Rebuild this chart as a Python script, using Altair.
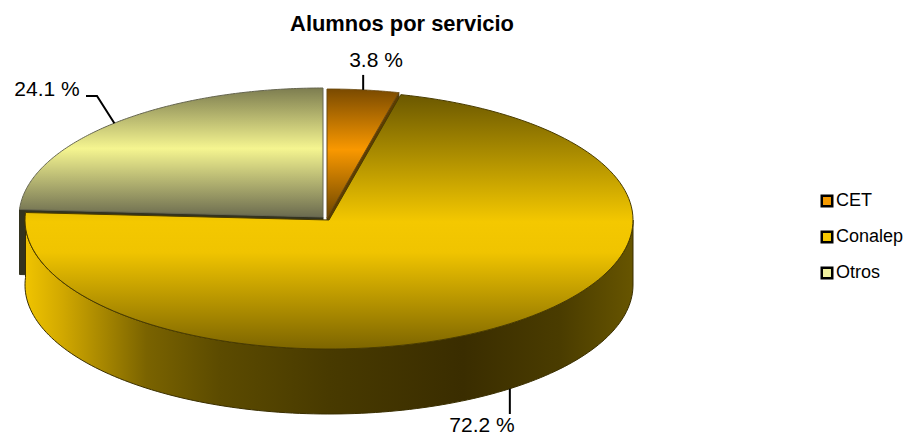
import math
import altair as alt
import pandas as pd

# --- values ---
categories = ["CET", "Conalep", "Otros"]
shares = [3.8, 72.2, 24.1]
labels = ["3.8 %", "72.2 %", "24.1 %"]
swatches = ["#f59a00", "#f5c800", "#f2f2a0"]
title = "Alumnos por servicio"

# --- layout of the projected pie (page pixels) ---
W, H, TOP = 896, 389, 40
RX, RY, DEPTH = 304, 129, 65
CENTRES = {"CET": (327, 218), "Conalep": (329, 220), "Otros": (323, 217)}
x_scale = alt.Scale(domain=[8, 8 + W], range=[0, W], nice=False, zero=False)
y_scale = alt.Scale(domain=[8 + TOP + H, 8 + TOP], nice=False, zero=False)
TOTAL = sum(shares)

spans, start = {}, 0.0
for c, s in zip(categories, shares):
    spans[c] = (start, start + s / TOTAL * 360)
    start += s / TOTAL * 360


def rim(c, a, dy=0.0):
    cx, cy = CENTRES[c]
    return cx + RX * math.sin(math.radians(a)), cy - RY * math.cos(math.radians(a)) + dy


def arc(c, a0, a1, dy=0.0, n=140):
    return [rim(c, a0 + (a1 - a0) * i / n, dy) for i in range(n + 1)]


def table(points):
    return pd.DataFrame({"x": [p[0] for p in points], "y": [p[1] for p in points], "i": range(len(points))})


def shape(points, fill, stroke, width=1.0):
    return alt.Chart(table(points)).mark_line(fill=fill, stroke=stroke, strokeWidth=width, strokeJoin="round").encode(
        x=alt.X("x:Q", scale=x_scale, axis=None),
        y=alt.Y("y:Q", scale=y_scale, axis=None),
        order=alt.Order("i:Q"),
    )


def vgrad(stops):
    return alt.Gradient(gradient="linear", x1=0, y1=0, x2=0, y2=1,
                        stops=[alt.GradientStop(offset=o, color=k) for o, k in stops])


def hgrad(stops):
    return alt.Gradient(gradient="linear", x1=0, y1=0, x2=1, y2=0,
                        stops=[alt.GradientStop(offset=o, color=k) for o, k in stops])


def wedge(c):
    a0, a1 = spans[c]
    return [CENTRES[c]] + arc(c, a0, a1) + [CENTRES[c]]


def cut_wall(c, a):
    cx, cy = CENTRES[c]
    e = rim(c, a)
    return [(cx, cy), e, (e[0], e[1] + DEPTH), (cx, cy + DEPTH), (cx, cy)]


layers = []
# cut walls, mostly hidden by the big slice
layers.append(shape(cut_wall("Otros", spans["Otros"][0]), "#33331f", "#33331f"))
layers.append(shape(cut_wall("CET", spans["CET"][1]), "#5e3c00", "#4a3000"))

# big slice: front wall then top
a0, a1 = spans["Conalep"]
front = arc("Conalep", 90, a1) + arc("Conalep", a1, 90, DEPTH)
front.append(front[0])
layers.append(shape(front, hgrad([(0, "#f0c400"), (0.06, "#d2a900"), (0.2, "#7a6300"), (0.32, "#5c4b00"),
                                  (0.5, "#483a00"), (0.72, "#3a2d00"), (0.88, "#4a3c00"), (1, "#675500")]),
                    "#3a2f00"))
layers.append(shape(wedge("Conalep"), vgrad([(0, "#6b5800"), (0.5, "#f4c800"), (0.62, "#f0c400"), (1, "#7d6500")]),
                    "#4a3c00"))

# small slices
layers.append(shape(wedge("Otros"), vgrad([(0, "#7d7d50"), (0.47, "#f5f590"), (1, "#6b6b4f")]), "#666650"))
layers.append(shape(wedge("CET"), vgrad([(0, "#7a4a00"), (0.47, "#f99800"), (1, "#6b4500")]), "#6b4a10"))

# leader lines, from each slice's middle to its label
mid = {c: (spans[c][0] + spans[c][1]) / 2 for c in categories}
p = rim("CET", mid["CET"])
leaders = [
    [p, (p[0], p[1] - 15)],
    [rim("Otros", mid["Otros"]), (97, 96), (86, 96)],
    [rim("Conalep", mid["Conalep"], DEPTH), (rim("Conalep", mid["Conalep"])[0], 414)],
]
for pts in leaders:
    layers.append(alt.Chart(table(pts)).mark_line(color="#000000", strokeWidth=2).encode(
        x=alt.X("x:Q", scale=x_scale, axis=None),
        y=alt.Y("y:Q", scale=y_scale, axis=None),
        order=alt.Order("i:Q"),
    ))

# value labels
label_df = pd.DataFrame({
    "t": labels,
    "x": [376, 482, 47],
    "y": [67, 432, 96],
})
layers.append(alt.Chart(label_df).mark_text(font="Liberation Sans", fontSize=21, color="#000000",
                                            align="center", baseline="alphabetic").encode(
    x=alt.X("x:Q", scale=x_scale, axis=None),
    y=alt.Y("y:Q", scale=y_scale, axis=None),
    text="t:N",
))

# legend carrier
legend_df = pd.DataFrame({"c": categories, "x": [400, 400, 400], "y": [200, 200, 200]})
layers.append(alt.Chart(legend_df).mark_square(size=0, opacity=0).encode(
    x=alt.X("x:Q", scale=x_scale, axis=None),
    y=alt.Y("y:Q", scale=y_scale, axis=None),
    color=alt.Color("c:N", scale=alt.Scale(domain=categories, range=swatches), legend=alt.Legend(
        title=None, orient="none", legendX=810, legendY=144, symbolType="square", symbolSize=110,
        symbolOpacity=1, symbolStrokeColor="#000000", symbolStrokeWidth=2.5, labelFont="Liberation Sans",
        labelFontSize=18, labelColor="#000000", labelOffset=0, rowPadding=14, labelOpacity=1,
    )),
))

chart = alt.layer(*layers).properties(
    width=W, height=H,
    padding={"left": 0, "right": 0, "top": TOP, "bottom": 0},
    autosize=alt.AutoSizeParams(type="none"),
    title=alt.TitleParams(title, font="Liberation Sans", fontSize=21.9, fontWeight="bold", color="#000000",
                          anchor="middle", dx=-54, offset=12),
    background="#ffffff",
).configure_view(stroke=None)

chart.save("out.html", embed_options={"renderer": "svg", "actions": False})
